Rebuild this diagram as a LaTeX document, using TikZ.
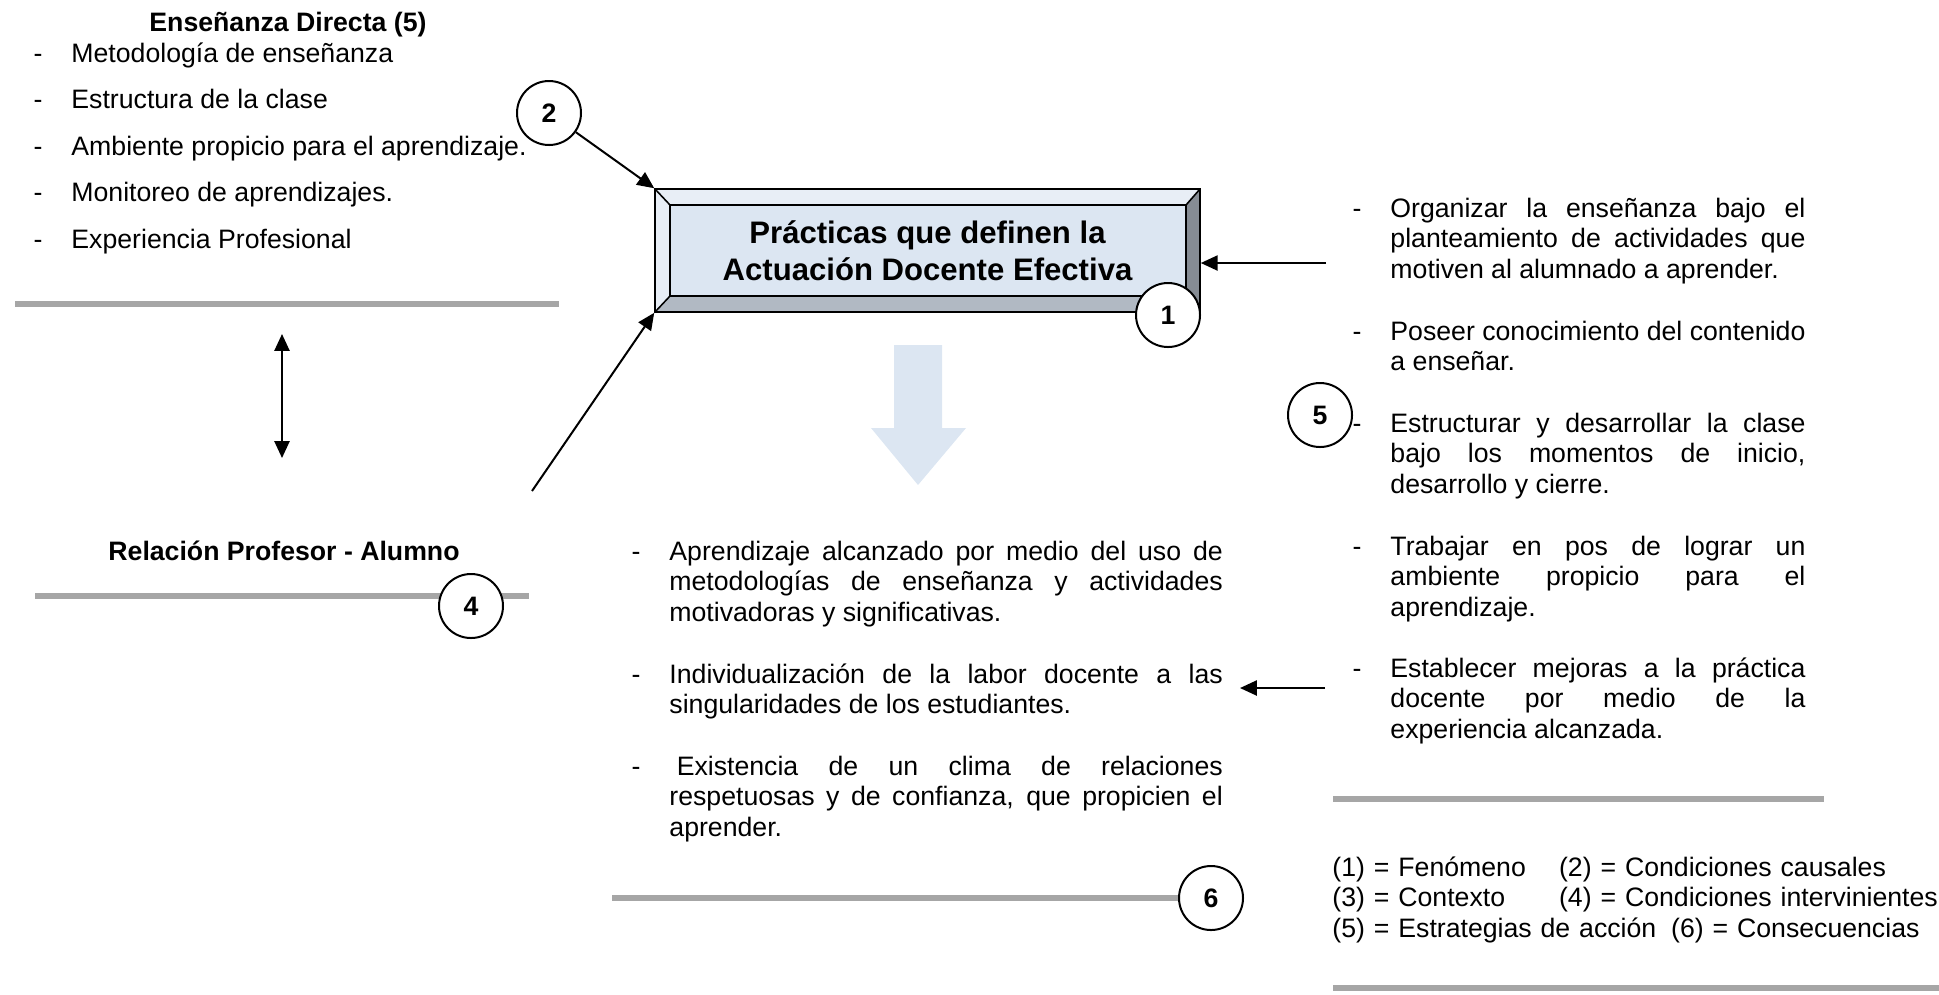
\documentclass[tikz,border=0pt]{standalone}
\usepackage{fontspec}
\setmainfont{Liberation Sans}
\usetikzlibrary{arrows.meta}
\definecolor{cara}{HTML}{DCE6F2}
\definecolor{luz}{HTML}{E8EEF6}
\definecolor{medio}{HTML}{B1B9C3}
\definecolor{sombra}{HTML}{868C94}
\definecolor{gris}{HTML}{A6A6A6}
\newcommand{\jl}[1]{\makebox[\hsize][s]{#1}\\}
\newcommand{\guion}{\llap{\makebox[17pt][l]{-}}}
\begin{document}
\begin{tikzpicture}[x=0.45pt,y=-0.45pt,
            texto/.style={anchor=base west,inner sep=0pt,align=left,font=\fontsize{12}{13.8}\selectfont},
            der/.style={texto,align=justify,text width=186.75pt},
            cen/.style={texto,align=justify,text width=249pt},
            negrita/.style={anchor=base,inner sep=0pt,font=\fontsize{12}{13.8}\selectfont\bfseries},
            numero/.style={circle,draw,line width=0.9pt,fill=white,minimum size=28.8pt,inner sep=0pt,font=\fontsize{12}{13.8}\selectfont\bfseries},
            flecha/.style={line width=0.9pt,-{Triangle[length=7.6pt,width=6.8pt]}},
            raya/.style={draw=gris,line width=2.7pt}]
            \useasboundingbox (0,0) rectangle (1939,994);
            % caja biselada
            \fill[luz] (655,189) -- (1200,189) -- (1186,205) -- (670,205) -- cycle;
            \fill[luz] (655,189) -- (670,205) -- (670,296) -- (655,312) -- cycle;
            \fill[medio] (655,312) -- (670,296) -- (1186,296) -- (1200,312) -- cycle;
            \fill[sombra] (1200,189) -- (1186,205) -- (1186,296) -- (1200,312) -- cycle;
            \filldraw[fill=cara,line width=0.7pt] (670,205) rectangle (1186,296);
            \draw[line width=0.7pt] (655,189) -- (670,205) (1200,189) -- (1186,205)
                (655,312) -- (670,296) (1200,312) -- (1186,296);
            \node[draw,line width=0.7pt,minimum width=245.25pt,minimum height=55.35pt,inner sep=0pt,
                align=center,font=\fontsize{14}{16.5}\selectfont\bfseries] (fen) at (927.5,250.5)
                {Prácticas que definen la\\Actuación Docente Efectiva};
            \fill[cara] (894,345) -- (942,345) -- (942,428) -- (966,428) -- (918,485)
                -- (871,428) -- (894,428) -- cycle;
            % ensenanza directa
            \node[negrita] (ens) at (288,31) {Enseñanza Directa (5)};
            \foreach \t [count=\i] in {Metodología de enseñanza,Estructura de la clase,
                Ambiente propicio para el aprendizaje.,Monitoreo de aprendizajes.,Experiencia Profesional}
                \node[texto] (ens\i) at (71,15.5+46.5*\i) {\guion\t};
            \draw[raya] (15,304) -- (559,304);
            \coordinate (d1) at (282,334);
            \coordinate (d2) at (282,458);
            \draw[line width=0.9pt,{Triangle[length=7.6pt,width=6.8pt]}-{Triangle[length=7.6pt,width=6.8pt]}] (d1) -- (d2);
            \node[negrita] (rel) at (284,560) {Relación Profesor - Alumno};
            \draw[raya] (35,596) -- (529,596);
            % estrategias
            \node[der] (est1) at (1390,217) {\guion\jl{Organizar la enseñanza bajo el}\jl{planteamiento de actividades que}motiven al alumnado a aprender.};
            \node[der] (est2) at (1390,340) {\guion\jl{Poseer conocimiento del contenido}a enseñar.};
            \node[der] (est3) at (1390,432) {\guion\jl{Estructurar y desarrollar la clase}\jl{bajo los momentos de inicio,}desarrollo y cierre.};
            \node[der] (est4) at (1390,555) {\guion\jl{Trabajar en pos de lograr un}\jl{ambiente propicio para el}aprendizaje.};
            \node[der] (est5) at (1390,677) {\guion\jl{Establecer mejoras a la práctica}\jl{docente por medio de la}experiencia alcanzada.};
            \draw[raya] (1333,799) -- (1824,799);
            % consecuencias
            \node[cen] (con1) at (669,560) {\guion\jl{Aprendizaje alcanzado por medio del uso de}\jl{metodologías de enseñanza y actividades}motivadoras y significativas.};
            \node[cen] (con2) at (669,683) {\guion\jl{Individualización de la labor docente a las}singularidades de los estudiantes.};
            \node[cen] (con3) at (669,775) {\guion\jl{\hspace*{3.3pt}Existencia de un clima de relaciones}\jl{respetuosas y de confianza, que propicien el}aprender.};
            \draw[raya] (612,898) -- (1181,898);
            % leyenda
            \node[texto,text width=280pt] (ley) at (1332,876) {\makebox[102pt][l]{(1) = Fenómeno}(2) = Condiciones causales\\
                \makebox[102pt][l]{(3) = Contexto}(4) = Condiciones intervinientes\\
                (5) = Estrategias de acción\hspace{6.7pt}(6) = Consecuencias};
            \draw[raya] (1333,988) -- (1939,988);
            % numeros
            \node[numero] (n1) at (1168,315) {1};
            \node[numero] (n2) at (549,113) {2};
            \node[numero] (n4) at (471,606) {4};
            \node[numero] (n5) at (1320,415) {5};
            \node[numero] (n6) at (1211,898) {6};
            % flechas
            \coordinate (a4) at (532,491);
            \coordinate (e1) at (1326,263);
            \coordinate (e5) at (1325,688);
            \coordinate (t5) at (1240,688);
            \draw[flecha] (n2) -- (fen.north west);
            \draw[flecha] (a4) -- (fen.south west);
            \draw[flecha] (e1) -- (e1 -| fen.east);
            \draw[flecha] (e5) -- (t5);
        \end{tikzpicture}
\end{document}
